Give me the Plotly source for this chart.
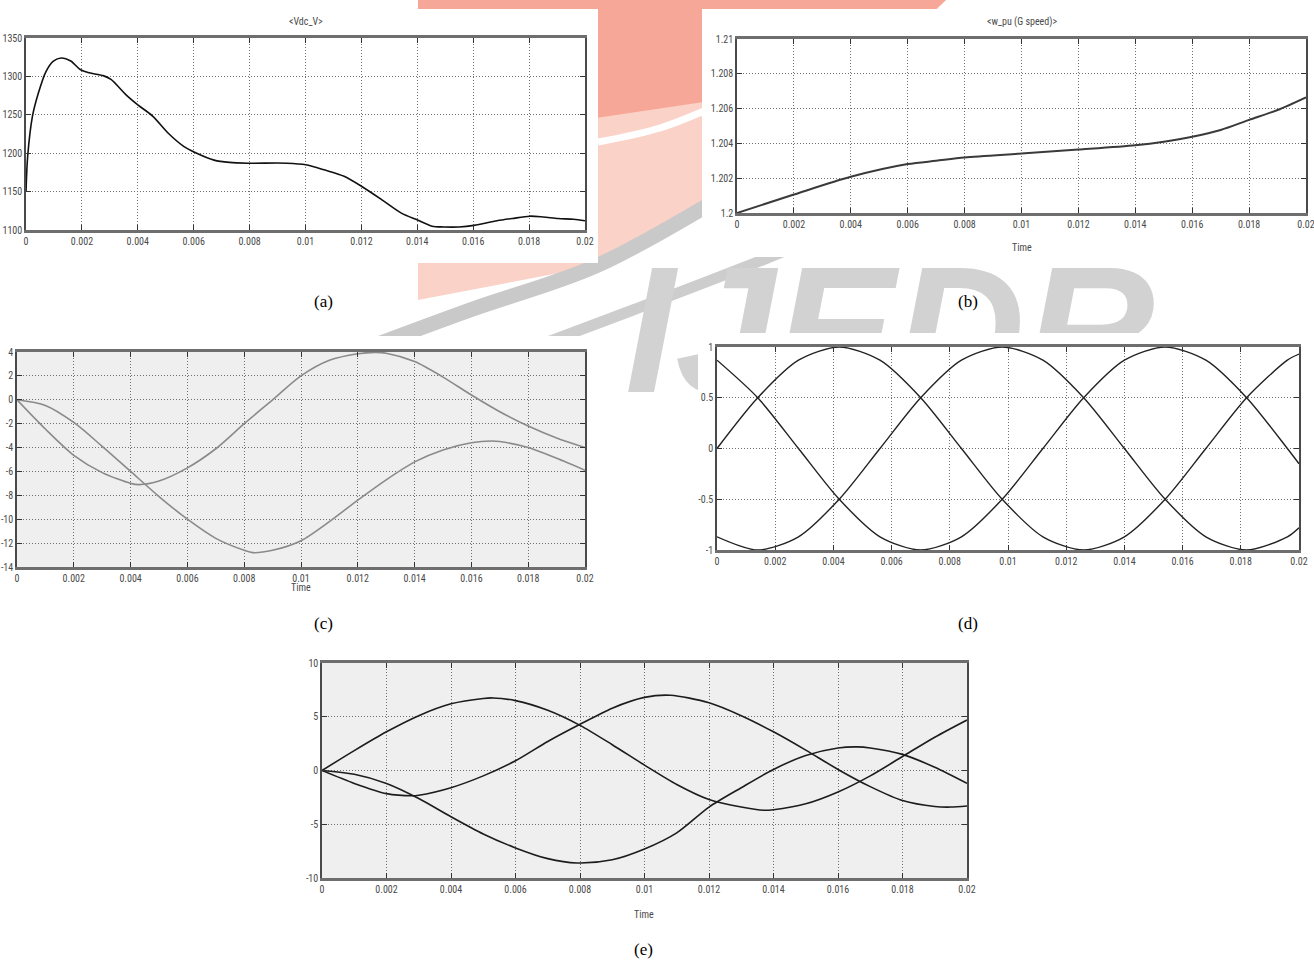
import plotly.graph_objects as go

W, H = 1314, 963

# ---------------- data ----------------
time_ticks = [0, 0.002, 0.004, 0.006, 0.008, 0.01, 0.012, 0.014, 0.016, 0.018, 0.02]
time_tick_text = ["0", "0.002", "0.004", "0.006", "0.008", "0.01", "0.012",
                  "0.014", "0.016", "0.018", "0.02"]

# (a) DC-link voltage
vdc_t = [0, 0.00006, 0.00023, 0.00044, 0.00071, 0.00098, 0.00126, 0.0016, 0.00194,
         0.00222, 0.00276, 0.00304, 0.00358, 0.004, 0.00454, 0.00509, 0.00564, 0.00605,
         0.00673, 0.00728, 0.00796, 0.00933, 0.01001, 0.0107, 0.01138, 0.012, 0.01275,
         0.01343, 0.01401, 0.01453, 0.01494, 0.01549, 0.01603, 0.01685, 0.0174, 0.01802,
         0.0185, 0.01904, 0.01959, 0.02]
vdc_v = [1150, 1196, 1248, 1278, 1306, 1320, 1324, 1320, 1309,
         1305, 1301, 1296, 1276, 1263, 1248, 1226, 1209, 1201,
         1191, 1188, 1187, 1187, 1185, 1178, 1170, 1157, 1139,
         1122, 1113, 1105, 1104, 1104, 1106, 1112, 1115, 1118,
         1117, 1115, 1114, 1112]
vdc_ticks = [1100, 1150, 1200, 1250, 1300, 1350]
vdc_tick_text = ["1100", "1150", "1200", "1250", "1300", "1350"]

# (b) generator speed (pu)
spd_t = [0, 0.002, 0.004, 0.006, 0.007, 0.008, 0.01, 0.012, 0.014, 0.015,
         0.016, 0.017, 0.018, 0.019, 0.02]
spd_v = [1.2, 1.20106, 1.20208, 1.20281, 1.2030, 1.20319, 1.20342, 1.20365, 1.2039,
         1.2041, 1.20438, 1.20477, 1.20535, 1.20592, 1.20665]
spd_ticks = [1.2, 1.202, 1.204, 1.206, 1.208, 1.21]
spd_tick_text = ["1.2", "1.202", "1.204", "1.206", "1.208", "1.21"]

# (c) two signals
c1_t = [0, 0.001, 0.002, 0.003, 0.004, 0.0043, 0.005, 0.006, 0.007, 0.008, 0.009,
        0.01, 0.011, 0.012, 0.0126, 0.013, 0.014, 0.015, 0.016, 0.017, 0.018, 0.019, 0.02]
c1_v = [0, -2.45, -4.65, -6.1, -7.0, -7.1, -6.8, -5.7, -4.1, -2.0, 0.0,
        2.0, 3.3, 3.85, 3.97, 3.9, 3.2, 1.9, 0.4, -1.0, -2.2, -3.2, -4.0]
c2_t = [0, 0.001, 0.002, 0.003, 0.004, 0.005, 0.006, 0.007, 0.008, 0.0083, 0.009,
        0.01, 0.011, 0.012, 0.013, 0.014, 0.015, 0.016, 0.0167, 0.017, 0.018, 0.019, 0.02]
c2_v = [0, -0.47, -1.9, -3.9, -6.0, -8.1, -10.0, -11.6, -12.6, -12.8, -12.6,
        -11.8, -10.2, -8.4, -6.7, -5.2, -4.2, -3.6, -3.45, -3.5, -4.0, -4.9, -5.9]
c_ticks = [-14, -12, -10, -8, -6, -4, -2, 0, 2, 4]
c_tick_text = ["-14", "-12", "-10", "-8", "-6", "-4", "-2", "0", "2", "4"]

# (d) three-phase reference
d_t = [0, 0.0014, 0.0028, 0.0042, 0.0056, 0.007, 0.0084, 0.0098, 0.0112, 0.0126,
       0.014, 0.0154, 0.0168, 0.0182, 0.0196, 0.02]
d_va = [0, 0.5, 0.87, 1.0, 0.87, 0.5, 0, -0.5, -0.87, -1.0,
        -0.87, -0.5, 0, 0.5, 0.87, 0.93]
d_vb = [0.87, 0.5, 0, -0.5, -0.87, -1.0, -0.87, -0.5, 0, 0.5,
        0.87, 1.0, 0.87, 0.5, 0, -0.15]
d_vc = [-0.87, -1.0, -0.87, -0.5, 0, 0.5, 0.87, 1.0, 0.87, 0.5,
        0, -0.5, -0.87, -1.0, -0.87, -0.78]
d_ticks = [-1, -0.5, 0, 0.5, 1]
d_tick_text = ["-1", "-0.5", "0", "0.5", "1"]

# (e) three-phase currents
e1_t = [0, 0.001, 0.002, 0.003, 0.004, 0.005, 0.0053, 0.006, 0.007, 0.008, 0.009,
        0.01, 0.011, 0.012, 0.013, 0.0137, 0.014, 0.015, 0.016, 0.017, 0.018, 0.019, 0.02]
e1_v = [0, 1.85, 3.6, 5.1, 6.2, 6.7, 6.75, 6.5, 5.6, 4.2, 2.4,
        0.5, -1.3, -2.7, -3.4, -3.7, -3.65, -3.1, -2.0, -0.5, 1.3, 3.1, 4.7]
e2_t = [0, 0.001, 0.002, 0.0028, 0.003, 0.004, 0.005, 0.006, 0.007, 0.008, 0.009,
        0.01, 0.0108, 0.012, 0.013, 0.014, 0.015, 0.016, 0.017, 0.018, 0.019, 0.0195, 0.02]
e2_v = [0, -1.2, -2.15, -2.35, -2.3, -1.6, -0.5, 0.9, 2.7, 4.3, 5.8,
        6.8, 7.0, 6.3, 5.1, 3.6, 1.9, 0.1, -1.5, -2.8, -3.35, -3.4, -3.3]
e3_t = [0, 0.001, 0.002, 0.003, 0.004, 0.005, 0.006, 0.007, 0.0079, 0.009, 0.01,
        0.011, 0.012, 0.013, 0.014, 0.015, 0.016, 0.0166, 0.017, 0.018, 0.019, 0.02]
e3_v = [0, -0.35, -1.2, -2.6, -4.3, -5.9, -7.2, -8.2, -8.6, -8.3, -7.3,
        -5.8, -3.4, -1.6, 0.1, 1.4, 2.1, 2.2, 2.1, 1.5, 0.3, -1.2]
e_ticks = [-10, -5, 0, 5, 10]
e_tick_text = ["-10", "-5", "0", "5", "10"]

# ---------------- geometry (pixels) ----------------
# plot areas (x0, y0, x1, y1) and the white cards behind each scope picture
AREA = {
    "a": (26, 38, 585, 230),
    "b": (737, 39, 1306, 213),
    "c": (17, 352, 585, 567),
    "d": (717, 347, 1299, 550),
    "e": (322, 663, 967, 878),
}
CARD = {
    "a": (0, 9, 598, 263),
    "b": (702, 9, 1314, 257),
    "c": (0, 336, 598, 598),
    "d": (698, 333, 1314, 580),
    "e": (285, 650, 1000, 926),
}
PLOT_BG = {"a": "white", "b": "white", "c": "#efefef", "d": "white", "e": "#efefef"}

NARROW = "Roboto Condensed, Roboto, Liberation Sans, sans-serif"
LOGO_FONT = "Liberation Sans, Arial, sans-serif"


def fx(x):
    return x / W


def fy(y):
    return 1 - y / H


def rect(box):
    x0, y0, x1, y1 = box
    return [x0, x1, x1, x0, x0], [y0, y0, y1, y1, y0]


fig = go.Figure()

# ---------------- background layer: logo watermark and picture cards ----------------
bg = dict(xaxis="x", yaxis="y", hoverinfo="skip", showlegend=False)

fig.add_trace(go.Scatter(x=[418, 946, 820, 717, 596, 418, 418],
                         y=[0, 0, 130, 200, 266, 300, 0],
                         fill="toself", fillcolor="#fbd2c7", mode="lines",
                         line=dict(width=0), **bg))
fig.add_trace(go.Scatter(x=[418, 946, 880, 717, 596, 418, 418],
                         y=[0, 0, 60, 100, 118, 125, 0],
                         fill="toself", fillcolor="#f6a797", mode="lines",
                         line=dict(width=0), **bg))
fig.add_trace(go.Scatter(x=[598, 660, 720], y=[142, 128, 104],
                         mode="lines", line=dict(color="white", width=7, shape="spline"),
                         **bg))
fig.add_trace(go.Scatter(x=[330, 470, 596, 717, 800], y=[362, 310, 266, 200, 150],
                         mode="lines", line=dict(color="#c9c9c9", width=15, shape="spline"),
                         **bg))
fig.add_trace(go.Scatter(x=[540, 633, 780, 880], y=[345, 310, 253, 210],
                         mode="lines", line=dict(color="#cdcdcd", width=11, shape="spline"),
                         **bg))
fig.add_trace(go.Scatter(x=[890], y=[347], mode="text", text=["IJEDR"],
                         textfont=dict(size=180, color="#d2d2d2", family=LOGO_FONT,
                                       style="italic", weight="bold"),
                         **bg))

for key in "abcde":
    xs, ys = rect(CARD[key])
    fig.add_trace(go.Scatter(x=xs, y=ys, fill="toself", fillcolor="white", mode="lines",
                             line=dict(width=0), **bg))
    xs, ys = rect(AREA[key])
    fig.add_trace(go.Scatter(x=xs, y=ys, fill="toself", fillcolor=PLOT_BG[key],
                             mode="lines", line=dict(width=0), **bg))

# ---------------- scope panels ----------------
PANEL_AXES = {"a": 2, "b": 3, "c": 4, "d": 5, "e": 6}

series = [
    ("a", vdc_t, vdc_v, "#111111", 1.6),
    ("b", spd_t, spd_v, "#3a3a3a", 2.0),
    ("c", c1_t, c1_v, "#8a8a8a", 1.6),
    ("c", c2_t, c2_v, "#8a8a8a", 1.6),
    ("d", d_t, d_va, "#222222", 1.4),
    ("d", d_t, d_vb, "#222222", 1.4),
    ("d", d_t, d_vc, "#222222", 1.4),
    ("e", e1_t, e1_v, "#1c1c1c", 1.6),
    ("e", e2_t, e2_v, "#1c1c1c", 1.6),
    ("e", e3_t, e3_v, "#1c1c1c", 1.6),
]
for key, t, v, color, width in series:
    n = PANEL_AXES[key]
    fig.add_trace(go.Scatter(x=t, y=v, mode="lines", xaxis=f"x{n}", yaxis=f"y{n}",
                             line=dict(color=color, width=width, shape="spline",
                                       smoothing=0.8),
                             hoverinfo="skip", showlegend=False))

Y_SPEC = {
    "a": ([1100, 1350], vdc_ticks, vdc_tick_text),
    "b": ([1.2, 1.21], spd_ticks, spd_tick_text),
    "c": ([-14, 4], c_ticks, c_tick_text),
    "d": ([-1, 1], d_ticks, d_tick_text),
    "e": ([-10, 10], e_ticks, e_tick_text),
}

tick_font = dict(family=NARROW, size=10, color="#4a4a4a")
GRID_DASH = "1px,2px"
layout_axes = {}
for key, n in PANEL_AXES.items():
    x0, y0, x1, y1 = AREA[key]
    yr, yt, ytt = Y_SPEC[key]
    layout_axes[f"xaxis{n}"] = dict(
        domain=[fx(x0), fx(x1)], anchor=f"y{n}", range=[0, 0.02],
        tickvals=time_ticks, ticktext=time_tick_text, tickfont=tick_font,
        ticklabeloverflow="allow",
        showgrid=True, gridcolor="#707070", griddash=GRID_DASH, gridwidth=1,
        showline=True, linecolor="#6e6e6e", linewidth=2.5, mirror="ticks",
        ticks="inside", ticklen=5, tickcolor="#333333", zeroline=False,
        automargin=False, fixedrange=True)
    layout_axes[f"yaxis{n}"] = dict(
        domain=[fy(y1), fy(y0)], anchor=f"x{n}", range=yr,
        tickvals=yt, ticktext=ytt, tickfont=tick_font, ticklabeloverflow="allow",
        showgrid=True, gridcolor="#707070", griddash=GRID_DASH, gridwidth=1,
        showline=True, linecolor="#4a4a4a", linewidth=1.5, mirror="ticks",
        ticks="inside", ticklen=5, tickcolor="#333333", zeroline=False,
        automargin=False, fixedrange=True)

# background axis in page pixels
layout_axes["xaxis"] = dict(domain=[0, 1], range=[0, W], visible=False, fixedrange=True)
layout_axes["yaxis"] = dict(domain=[0, 1], range=[H, 0], visible=False, fixedrange=True)

# ---------------- text ----------------
annotations = []


def label(text, x, y, size, family, color="#000000"):
    annotations.append(dict(text=text, x=fx(x), y=fy(y), xref="paper", yref="paper",
                            showarrow=False, xanchor="center", yanchor="middle",
                            font=dict(family=family, size=size, color=color)))


label("&lt;Vdc_V&gt;", 306, 22, 10, NARROW, "#4a4a4a")
label("&lt;w_pu (G speed)&gt;", 1022, 22, 10, NARROW, "#4a4a4a")
label("Time", 1022, 247, 10, NARROW, "#4a4a4a")
label("Time", 301, 587, 10, NARROW, "#4a4a4a")
label("Time", 644, 914, 10, NARROW, "#4a4a4a")

SERIF = "Liberation Serif, Times New Roman, serif"
label("(a)", 323, 302, 17, SERIF)
label("(b)", 968, 302, 17, SERIF)
label("(c)", 323, 623, 17, SERIF)
label("(d)", 968, 623, 17, SERIF)
label("(e)", 643, 949, 17, SERIF)

fig.update_layout(
    width=W, height=H, margin=dict(l=0, r=0, t=0, b=0), autosize=False,
    template="none", paper_bgcolor="white", plot_bgcolor="rgba(0,0,0,0)",
    showlegend=False, annotations=annotations, **layout_axes)

fig.write_html("out.html")
